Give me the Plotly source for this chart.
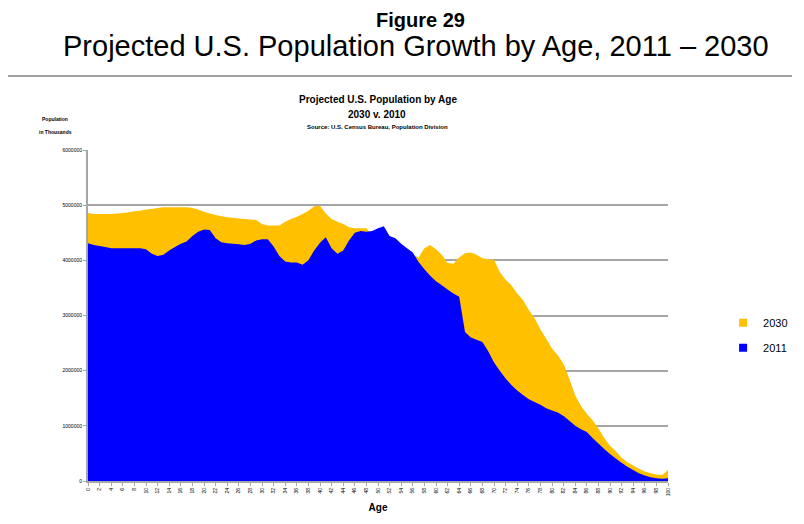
import plotly.graph_objects as go

ages = list(range(0, 101))

pop_2011 = [
    4310000, 4280000, 4260000, 4240000, 4220000, 4220000, 4220000, 4220000, 4220000, 4220000,
    4200000, 4120000, 4080000, 4100000, 4180000, 4240000, 4300000, 4340000, 4440000, 4520000,
    4560000, 4550000, 4400000, 4330000, 4310000, 4300000, 4290000, 4280000, 4300000, 4360000,
    4380000, 4380000, 4250000, 4080000, 3980000, 3960000, 3960000, 3920000, 4000000, 4180000,
    4320000, 4420000, 4220000, 4120000, 4180000, 4360000, 4500000, 4530000, 4520000, 4530000,
    4580000, 4620000, 4440000, 4400000, 4300000, 4220000, 4140000, 3970000, 3840000, 3720000,
    3620000, 3550000, 3470000, 3400000, 3340000, 2700000, 2600000, 2560000, 2520000, 2350000,
    2150000, 2000000, 1860000, 1740000, 1640000, 1560000, 1480000, 1430000, 1380000, 1320000,
    1280000, 1240000, 1180000, 1090000, 1000000, 940000, 890000, 780000, 680000, 580000,
    490000, 410000, 330000, 260000, 200000, 140000, 100000, 70000, 50000, 40000,
    50000,
]

pop_2030 = [
    4860000, 4840000, 4840000, 4840000, 4840000, 4850000, 4860000, 4870000, 4890000, 4900000,
    4920000, 4930000, 4950000, 4960000, 4960000, 4960000, 4960000, 4960000, 4950000, 4920000,
    4880000, 4850000, 4820000, 4800000, 4780000, 4770000, 4760000, 4750000, 4740000, 4730000,
    4660000, 4630000, 4630000, 4630000, 4700000, 4750000, 4790000, 4840000, 4900000, 4980000,
    4990000, 4850000, 4750000, 4700000, 4660000, 4600000, 4580000, 4580000, 4580000, 4450000,
    4400000, 4350000, 4300000, 4280000, 4250000, 4200000, 4100000, 4050000, 4220000, 4280000,
    4200000, 4100000, 3950000, 3940000, 4050000, 4130000, 4140000, 4100000, 4040000, 4020000,
    4010000, 3790000, 3650000, 3550000, 3400000, 3280000, 3100000, 2950000, 2750000, 2580000,
    2400000, 2280000, 2120000, 1850000, 1550000, 1360000, 1220000, 1100000, 950000, 780000,
    640000, 540000, 420000, 340000, 280000, 220000, 170000, 140000, 120000, 110000,
    200000,
]

y_ticks = [0, 1000000, 2000000, 3000000, 4000000, 5000000, 6000000]
x_ticks = list(range(0, 101, 2))

ORANGE = "#FFC000"
BLUE = "#0000FF"
GRID = "#A6A6A6"
FONT = "Liberation Sans"

fig = go.Figure()

fig.add_trace(go.Scatter(
    x=ages, y=pop_2030, mode="none", fill="tozeroy", fillcolor=ORANGE,
    showlegend=False, hoverinfo="x+y", name="2030",
))
fig.add_trace(go.Scatter(
    x=ages, y=pop_2011, mode="none", fill="tozeroy", fillcolor=BLUE,
    showlegend=False, hoverinfo="x+y", name="2011",
))
# legend entries
fig.add_trace(go.Scatter(
    x=[None], y=[None], mode="markers", name="2030", legendgroup="a",
    marker=dict(symbol="square", size=8, color=ORANGE),
))
fig.add_trace(go.Scatter(
    x=[None], y=[None], mode="markers", name="2011", legendgroup="b",
    marker=dict(symbol="square", size=8, color=BLUE),
))

# the page adds an 8px body margin, so the figure is 796x516 drawn at (8, 8)
fig.update_layout(
    width=796, height=516,
    margin=dict(l=80, r=136, t=142, b=43, autoexpand=False),
    paper_bgcolor="white", plot_bgcolor="white",
    font=dict(family=FONT, color="black"),
    showlegend=True,
    legend=dict(
        x=1.095, y=0.44, xanchor="left", yanchor="middle",
        font=dict(size=11, family=FONT),
        traceorder="grouped", tracegroupgap=6,
        bgcolor="rgba(0,0,0,0)",
    ),
    xaxis=dict(
        range=[0, 100], tickmode="array", tickvals=x_ticks,
        ticktext=[str(v) for v in x_ticks],
        tickangle=-90, tickfont=dict(size=5, family=FONT),
        showgrid=False, showline=True, linecolor=GRID, linewidth=2,
        ticks="outside", ticklen=3, tickcolor=GRID, zeroline=False,
        automargin=False,
        title=dict(text="<b>Age</b>", font=dict(size=10, family=FONT), standoff=9),
    ),
    yaxis=dict(
        range=[0, 6000000], tickmode="array", tickvals=y_ticks,
        ticktext=[str(v) for v in y_ticks],
        tickfont=dict(size=5, family=FONT),
        showgrid=True, gridcolor=GRID, gridwidth=2,
        showline=True, linecolor=GRID, linewidth=2,
        ticks="outside", ticklen=3, tickcolor=GRID, zeroline=False,
        automargin=False,
    ),
    annotations=[
        dict(text="<b>Figure 29</b>", xref="paper", yref="paper",
             x=(420 - 88) / 580, y=(481 - 20) / 331, xanchor="center", yanchor="middle",
             showarrow=False, font=dict(size=20, family=FONT)),
        dict(text="Projected U.S. Population Growth by Age, 2011 \u2013 2030", xref="paper", yref="paper",
             x=(416 - 88) / 580, y=(481 - 46) / 331, xanchor="center", yanchor="middle",
             showarrow=False, font=dict(size=29, family=FONT)),
        dict(text="<b>Projected U.S. Population by Age</b>", xref="paper", yref="paper",
             x=(378 - 88) / 580, y=(481 - 100) / 331, xanchor="center", yanchor="middle",
             showarrow=False, font=dict(size=10, family=FONT)),
        dict(text="<b>2030 v. 2010</b>", xref="paper", yref="paper",
             x=(377 - 88) / 580, y=(481 - 114) / 331, xanchor="center", yanchor="middle",
             showarrow=False, font=dict(size=10, family=FONT)),
        dict(text="<b>Source: U.S. Census Bureau, Population Division</b>", xref="paper", yref="paper",
             x=(377 - 88) / 580, y=(481 - 127) / 331, xanchor="center", yanchor="middle",
             showarrow=False, font=dict(size=6, family=FONT)),
        dict(text="<b>Population</b>", xref="paper", yref="paper",
             x=(55 - 88) / 580, y=(481 - 119) / 331, xanchor="center", yanchor="middle",
             showarrow=False, font=dict(size=5, family=FONT)),
        dict(text="<b>in Thousands</b>", xref="paper", yref="paper",
             x=(55 - 88) / 580, y=(481 - 132) / 331, xanchor="center", yanchor="middle",
             showarrow=False, font=dict(size=5, family=FONT)),
    ],
    shapes=[
        dict(type="line", xref="paper", yref="paper",
             x0=-80 / 580, x1=(792 - 88) / 580, y0=(481 - 76) / 331, y1=(481 - 76) / 331,
             line=dict(color="#A0A0A0", width=2)),
    ],
)

fig.write_html("out.html")
